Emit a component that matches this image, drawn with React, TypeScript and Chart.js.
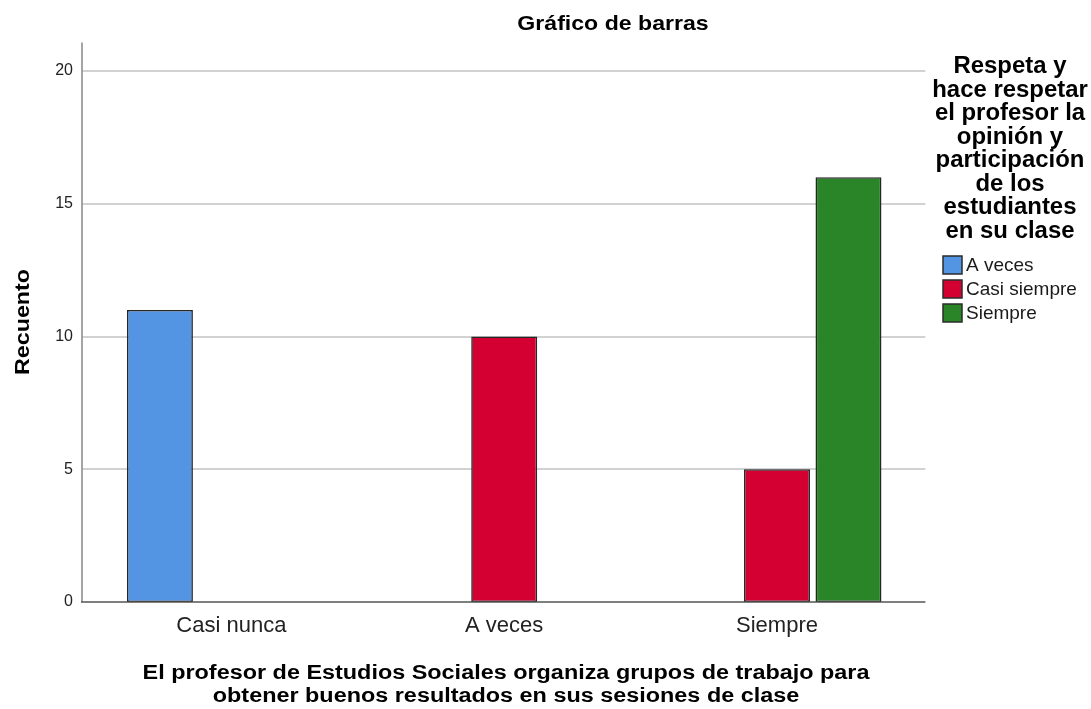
import React, { useEffect, useRef } from "react";
import { Chart, registerables } from "chart.js";

Chart.register(...registerables);

const categories = ["Casi nunca", "A veces", "Siempre"];
const seriesNames = ["A veces", "Casi siempre", "Siempre"];
const seriesAVeces = [11, null, null];
const seriesCasiSiempre = [null, 10, 5];
const seriesSiempre = [null, null, 16];
const seriesColors = ["#5394E3", "#D50032", "#2A8529"];
const yTicks = [0, 5, 10, 15, 20];
const chartTitle = "Gráfico de barras";
const yTitle = "Recuento";
const xTitle = [
  "El profesor de Estudios Sociales organiza grupos de trabajo para",
  "obtener buenos resultados en sus sesiones de clase",
];
const legendTitle = [
  "Respeta y",
  "hace respetar",
  "el profesor la",
  "opinión y",
  "participación",
  "de los",
  "estudiantes",
  "en su clase",
];

const FONT = "'Liberation Sans', Arial, sans-serif";

function drawScaled(ctx: any, text: string, cx: number, cy: number, font: string, sx: number, rot = 0) {
  ctx.save();
  ctx.translate(cx, cy);
  if (rot) ctx.rotate(rot);
  ctx.scale(sx, 1);
  ctx.font = font;
  ctx.fillText(text, 0, 0);
  ctx.restore();
}

const decorPlugin = {
  id: "spssDecor",
  beforeDatasetsDraw(chart: any) {
    const { ctx, chartArea, scales } = chart;
    const y = scales.y;
    const x0 = chartArea.left - 13;
    const x1 = chartArea.right + 12;
    ctx.save();
    ctx.strokeStyle = "#d2d2d2";
    ctx.lineWidth = 2;
    yTicks.forEach((v) => {
      if (v === 0) return;
      const py = Math.round(y.getPixelForValue(v));
      ctx.beginPath();
      ctx.moveTo(x0, py);
      ctx.lineTo(x1, py);
      ctx.stroke();
    });
    ctx.restore();
  },
  afterDatasetsDraw(chart: any) {
    const { ctx, chartArea, scales } = chart;
    const y = scales.y;
    const x0 = chartArea.left - 13;
    const x1 = chartArea.right + 12;
    const yb = y.getPixelForValue(0);
    ctx.save();
    ctx.strokeStyle = "#8e8e8e";
    ctx.lineWidth = 1.6;
    ctx.beginPath();
    ctx.moveTo(x0, chartArea.top - 2);
    ctx.lineTo(x0, yb);
    ctx.stroke();
    ctx.strokeStyle = "#555555";
    ctx.beginPath();
    ctx.moveTo(x0 - 1, yb);
    ctx.lineTo(x1, yb);
    ctx.stroke();
    ctx.restore();
  },
  afterDraw(chart: any) {
    const { ctx } = chart;
    ctx.save();
    ctx.fillStyle = "#000";
    ctx.textAlign = "center";
    ctx.textBaseline = "middle";
    // title
    drawScaled(ctx, chartTitle, 613, 24, `bold 21px ${FONT}`, 1.1);
    // x title
    drawScaled(ctx, xTitle[0], 506, 673, `bold 20px ${FONT}`, 1.17);
    drawScaled(ctx, xTitle[1], 506, 696, `bold 20px ${FONT}`, 1.17);
    // y title
    drawScaled(ctx, yTitle, 23, 322, `bold 21px ${FONT}`, 1.11, -Math.PI / 2);
    // legend title
    legendTitle.forEach((t, i) => {
      drawScaled(ctx, t, 1010, 67 + i * 23.5, `bold 23px ${FONT}`, 1.04);
    });
    // legend items
    ctx.textAlign = "left";
    ctx.font = `19px ${FONT}`;
    chart.data.datasets.forEach((ds: any, i: number) => {
      const cy = 265 + i * 24;
      ctx.fillStyle = ds.backgroundColor;
      ctx.fillRect(943, cy - 9, 19, 18);
      ctx.strokeStyle = "#2b2b2b";
      ctx.lineWidth = 1.5;
      ctx.strokeRect(943, cy - 9, 19, 18);
      ctx.fillStyle = "#1a1a1a";
      ctx.fillText(ds.label, 966, cy + 1);
    });
    ctx.restore();
  },
};

export default function App() {
  const ref = useRef<HTMLCanvasElement | null>(null);

  useEffect(() => {
    if (!ref.current) return;
    const mk = (label: string, data: (number | null)[], color: string) => ({
      label,
      data,
      backgroundColor: color,
      borderColor: "#262626",
      borderWidth: 1.6,
      borderSkipped: false,
      barPercentage: 0.923,
      categoryPercentage: 0.786,
    });
    const chart = new Chart(ref.current, {
      type: "bar",
      data: {
        labels: categories,
        datasets: [
          mk(seriesNames[0], seriesAVeces, seriesColors[0]),
          mk(seriesNames[1], seriesCasiSiempre, seriesColors[1]),
          mk(seriesNames[2], seriesSiempre, seriesColors[2]),
        ],
      },
      options: {
        responsive: false,
        animation: false,
        layout: { padding: { left: 0, top: 44.5, right: 177.6, bottom: 0 } },
        plugins: {
          legend: { display: false },
          title: { display: false },
          tooltip: { enabled: false },
        },
        scales: {
          x: {
            grid: { display: false, drawTicks: false },
            border: { display: false },
            ticks: {
              padding: 11,
              color: "#222",
              font: { family: FONT, size: 22 },
            },
            afterFit(scale: any) {
              scale.height = 107;
            },
          },
          y: {
            min: 0,
            max: 21,
            grid: { display: false, drawTicks: false },
            border: { display: false },
            ticks: {
              stepSize: 5,
              padding: 22,
              color: "#222",
              font: { family: FONT, size: 16 },
            },
            afterBuildTicks(scale: any) {
              scale.ticks = yTicks.map((v) => ({ value: v }));
            },
            afterFit(scale: any) {
              scale.width = 95;
            },
          },
        },
      },
      plugins: [decorPlugin],
    });
    return () => chart.destroy();
  }, []);

  return (
    <div style={{ position: "absolute", left: 0, top: 0, width: 1091, height: 709, background: "#fff" }}>
      <canvas ref={ref} width={1091} height={709} style={{ display: "block" }} />
    </div>
  );
}
